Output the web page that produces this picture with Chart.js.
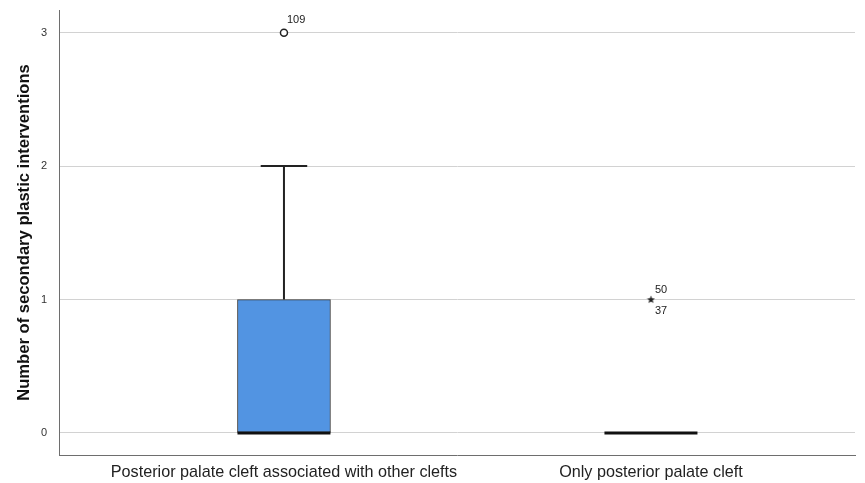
<!DOCTYPE html>
<html>
<head>
<meta charset="utf-8">
<script src="https://cdn.jsdelivr.net/npm/chart.js@4/dist/chart.umd.min.js"></script>
<style>
  html, body { margin: 0; padding: 0; background: #ffffff; }
  #wrap { width: 865px; height: 483px; }
</style>
</head>
<body>
<div id="wrap"><canvas id="c" width="865" height="483"></canvas></div>
<script>
// Groups and box-plot summary per group
const categories = ['Posterior palate cleft associated with other clefts', 'Only posterior palate cleft'];
const groupPositions = [1, 2];
const whiskerLow = [0, 0];
const q1 = [0, 0];
const median = [0, 0];
const q3 = [1, 0];
const whiskerHigh = [2, 0];
// Outliers (circles) and extremes (stars), with case numbers
const outlierValues = [[3], []];
const outlierIds = [['109'], []];
const extremeValues = [[], [1]];
const extremeIds = [[], ['50', '37']];
const yTicks = [0, 1, 2, 3];

const FONT = '"Liberation Sans", Arial, sans-serif';

// small filled star used for extreme cases
function starImage() {
  const c = document.createElement('canvas');
  c.width = 9; c.height = 9;
  const g = c.getContext('2d');
  g.fillStyle = '#222';
  g.beginPath();
  for (let i = 0; i < 10; i++) {
    const r = i % 2 === 0 ? 4.2 : 1.8;
    const a = -Math.PI / 2 + i * Math.PI / 5;
    const px = 4.5 + r * Math.cos(a), py = 4.7 + r * Math.sin(a);
    i === 0 ? g.moveTo(px, py) : g.lineTo(px, py);
  }
  g.closePath();
  g.fill();
  return c;
}

const boxData = categories.map((_, i) => ({ x: groupPositions[i], y: [q1[i], q3[i]] }));
const outlierPoints = [];
outlierValues.forEach((vals, i) => vals.forEach((v, k) => outlierPoints.push({ x: groupPositions[i], y: v, ids: [outlierIds[i][k]] })));
const extremePoints = [];
extremeValues.forEach((vals, i) => vals.forEach(v => extremePoints.push({ x: groupPositions[i], y: v, ids: extremeIds[i] })));

const boxPlotPlugin = {
  id: 'boxPlotParts',
  afterDatasetsDraw(chart) {
    const ctx = chart.ctx;
    const xs = chart.scales.x, ys = chart.scales.y;
    const meta = chart.getDatasetMeta(0);
    ctx.save();
    categories.forEach((_, i) => {
      const bar = meta.data[i];
      const half = bar.width / 2;
      const cx = xs.getPixelForValue(groupPositions[i]);
      ctx.strokeStyle = '#222';
      ctx.lineWidth = 2;
      // upper whisker + cap
      if (whiskerHigh[i] > q3[i]) {
        const yTop = ys.getPixelForValue(whiskerHigh[i]);
        ctx.beginPath();
        ctx.moveTo(cx, ys.getPixelForValue(q3[i]));
        ctx.lineTo(cx, yTop);
        ctx.moveTo(cx - half / 2, yTop);
        ctx.lineTo(cx + half / 2, yTop);
        ctx.stroke();
      }
      // lower whisker + cap
      if (whiskerLow[i] < q1[i]) {
        const yBot = ys.getPixelForValue(whiskerLow[i]);
        ctx.beginPath();
        ctx.moveTo(cx, ys.getPixelForValue(q1[i]));
        ctx.lineTo(cx, yBot);
        ctx.moveTo(cx - half / 2, yBot);
        ctx.lineTo(cx + half / 2, yBot);
        ctx.stroke();
      }
      // median
      const ym = ys.getPixelForValue(median[i]);
      ctx.strokeStyle = '#111';
      ctx.lineWidth = 3;
      ctx.beginPath();
      ctx.moveTo(cx - half, ym);
      ctx.lineTo(cx + half, ym);
      ctx.stroke();
    });
    // case labels
    ctx.fillStyle = '#222';
    ctx.font = '11px ' + FONT;
    ctx.textAlign = 'left';
    ctx.textBaseline = 'middle';
    outlierPoints.forEach(p => {
      const px = xs.getPixelForValue(p.x), py = ys.getPixelForValue(p.y);
      ctx.fillText(p.ids[0], px + 3, py - 13);
    });
    extremePoints.forEach(p => {
      const px = xs.getPixelForValue(p.x), py = ys.getPixelForValue(p.y);
      ctx.fillText(p.ids[0], px + 4, py - 10);
      if (p.ids[1]) ctx.fillText(p.ids[1], px + 4, py + 11);
    });
    ctx.restore();
  }
};

new Chart(document.getElementById('c'), {
  type: 'bar',
  data: {
    datasets: [
      {
        type: 'bar',
        data: boxData,
        backgroundColor: '#5294E2',
        borderColor: '#3a3a3a',
        borderWidth: 1,
        borderSkipped: false,
        barThickness: 93,
        order: 2
      },
      {
        type: 'scatter',
        data: outlierPoints,
        pointStyle: 'circle',
        pointRadius: 3.5,
        pointBackgroundColor: '#ffffff',
        pointBorderColor: '#222',
        pointBorderWidth: 1.5,
        order: 1
      },
      {
        type: 'scatter',
        data: extremePoints,
        pointStyle: starImage(),
        order: 1
      }
    ]
  },
  options: {
    responsive: false,
    animation: false,
    layout: { padding: { top: 10, right: 10, left: 0, bottom: 0 } },
    plugins: { legend: { display: false }, tooltip: { enabled: false } },
    scales: {
      x: {
        type: 'linear',
        offset: false,
        min: 0.387,
        max: 2.556,
        afterBuildTicks(scale) { scale.ticks = groupPositions.map(v => ({ value: v })); },
        afterFit(scale) { scale.height = 28; scale.paddingLeft = 0; scale.paddingRight = 0; },
        grid: { display: false, drawTicks: false, offset: false },
        border: { display: true, color: '#6e6e6e', width: 1 },
        ticks: {
          autoSkip: false,
          maxRotation: 0,
          padding: 8,
          color: '#222',
          font: { family: FONT, size: 16.2 },
          callback(v) { const i = groupPositions.indexOf(v); return i >= 0 ? categories[i] : ''; }
        }
      },
      y: {
        type: 'linear',
        min: -0.165,
        max: 3.17,
        afterBuildTicks(scale) { scale.ticks = yTicks.map(v => ({ value: v })); },
        afterFit(scale) { scale.width = 59; scale.paddingTop = 0; scale.paddingBottom = 0; },
        grid: { color: '#d2d2d2', lineWidth: 1, drawTicks: false },
        border: { display: true, color: '#6e6e6e', width: 1 },
        ticks: {
          padding: 12,
          color: '#333',
          font: { family: FONT, size: 11 }
        },
        title: {
          display: true,
          text: 'Number of secondary plastic interventions',
          color: '#111',
          font: { family: FONT, size: 16.6, weight: 'bold' },
          padding: { top: 14, bottom: 4 }
        }
      }
    }
  },
  plugins: [boxPlotPlugin]
});
</script>
</body>
</html>
